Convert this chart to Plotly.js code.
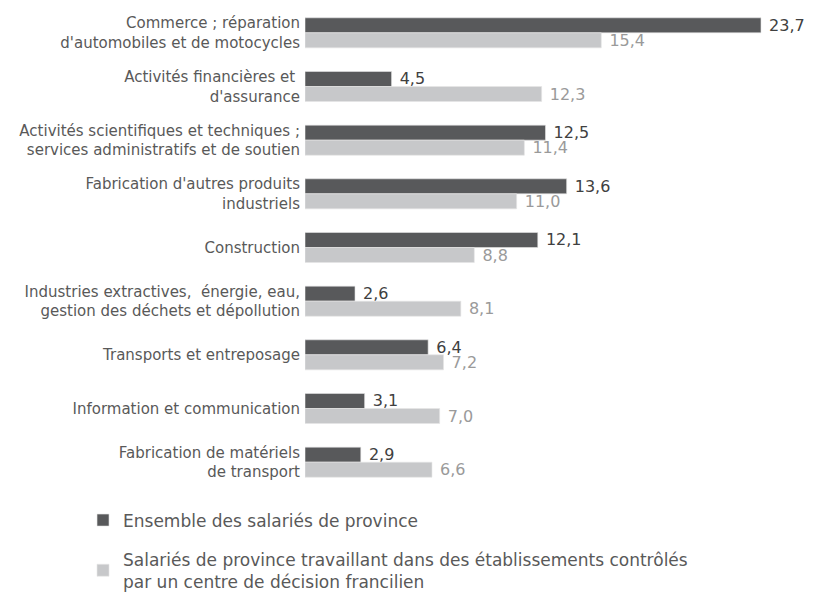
<!DOCTYPE html>
<html>
<head>
<meta charset="utf-8">
<script src="https://cdn.plot.ly/plotly-3.0.1.min.js"></script>
<style>html,body{margin:0;padding:0;background:#fff;}#chart{width:818px;height:594px;}</style>
</head>
<body>
<div id="chart"></div>
<script>
const categories = [
  "Commerce ; réparation<br>d'automobiles et de motocycles",
  "Activités financières et <br>d'assurance",
  "Activités scientifiques et techniques ;<br>services administratifs et de soutien",
  "Fabrication d'autres produits<br>industriels",
  "Construction",
  "Industries extractives,  énergie, eau,<br>gestion des déchets et dépollution",
  "Transports et entreposage",
  "Information et communication",
  "Fabrication de matériels<br>de transport"
];
const ensemble = [23.7, 4.5, 12.5, 13.6, 12.1, 2.6, 6.4, 3.1, 2.9];
const controles = [15.4, 12.3, 11.4, 11.0, 8.8, 8.1, 7.2, 7.0, 6.6];
const seriesNames = [
  "Ensemble des salariés de province",
  "Salariés de province travaillant dans des établissements contrôlés<br>par un centre de décision francilien"
];

const FONT = "DejaVu Sans, Verdana, sans-serif";
const traces = [
  {
    type: 'bar', orientation: 'h', y: categories, x: ensemble, name: seriesNames[0],
    legendgroup: 'a',
    marker: {color: '#58595b', line: {color: '#e6e6e6', width: 0.6}},
    texttemplate: ' %{x:.1f}', textposition: 'outside', cliponaxis: false,
    constraintext: 'none',
    textfont: {family: FONT, size: 16, color: '#404040'},
    hoverinfo: 'skip'
  },
  {
    type: 'bar', orientation: 'h', y: categories, x: controles, name: seriesNames[1],
    legendgroup: 'b',
    marker: {color: '#c7c8ca', line: {color: '#e6e6e6', width: 0.6}},
    texttemplate: ' %{x:.1f}', textposition: 'outside', cliponaxis: false,
    constraintext: 'none',
    textfont: {family: FONT, size: 16, color: '#9a9a9a'},
    hoverinfo: 'skip'
  }
];

const layout = {
  width: 818, height: 594,
  margin: {l: 305, r: 32, t: 6, b: 105, autoexpand: false},
  separators: ', ',
  barmode: 'group',
  bargap: 0.44,
  bargroupgap: 0,
  paper_bgcolor: '#fff', plot_bgcolor: '#fff',
  font: {family: FONT, color: '#595959', size: 15},
  xaxis: {range: [0, 25], visible: false, fixedrange: true},
  yaxis: {
    type: 'category', autorange: 'reversed', showgrid: false, zeroline: false,
    showline: false, ticks: '', ticklabelstandoff: 4,
    tickfont: {family: FONT, size: 15, color: '#595959'}, automargin: false
  },
  showlegend: true,
  legend: {
    orientation: 'v', x: -0.4615, xanchor: 'left', y: -0.028, yanchor: 'top',
    font: {family: FONT, size: 17, color: '#595959'},
    tracegroupgap: 14, itemwidth: 30, traceorder: 'grouped'
  }
};

Plotly.newPlot('chart', traces, layout, {displayModeBar: false, staticPlot: true});
</script>
</body>
</html>
